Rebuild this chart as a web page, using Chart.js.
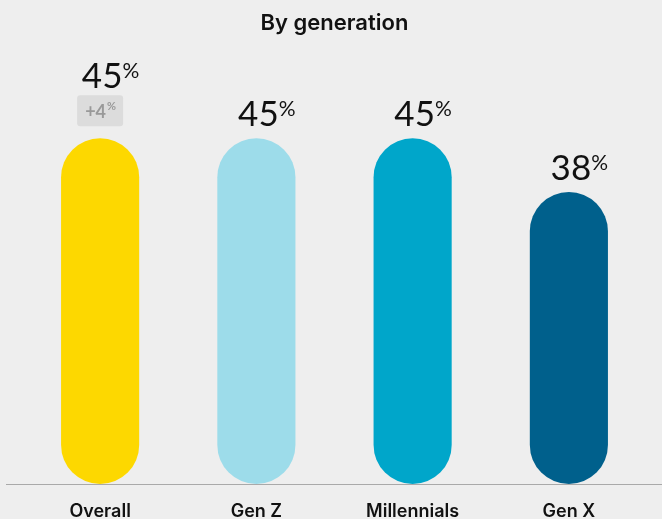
<!DOCTYPE html>
<html>
<head>
<meta charset="utf-8">
<script src="https://cdn.jsdelivr.net/npm/chart.js@4/dist/chart.umd.min.js"></script>
<style>
  html, body { margin: 0; padding: 0; background: #eeeeee; }
  #wrap { width: 662px; height: 519px; }
</style>
</head>
<body>
<div id="wrap"><canvas id="gen-chart" width="662" height="519"></canvas></div>
<script>
var categories = ["Overall", "Gen Z", "Millennials", "Gen X"];
var values = [45, 45, 45, 38];
var changes = ["+4", null, null, null];
var barColors = ["#fdd800", "#9ddcea", "#00a6ca", "#00608c"];

var FONT = "Lato, 'DejaVu Sans', sans-serif";
var LABEL_FONT = "Inter, Lato, sans-serif";

// baseline under the bars, running nearly the full width
var baselinePlugin = {
  id: "baseline",
  beforeDatasetsDraw: function(chart) {
    var ctx = chart.ctx;
    var y = Math.round(chart.scales.y.getPixelForValue(0)) + 0.5;
    ctx.save();
    ctx.strokeStyle = "#a9a9a9";
    ctx.lineWidth = 1;
    ctx.beginPath();
    ctx.moveTo(6, y);
    ctx.lineTo(chart.width, y);
    ctx.stroke();
    ctx.restore();
  }
};

// value labels with superscript % and the change badge
var valueLabels = {
  id: "valueLabels",
  afterDatasetsDraw: function(chart) {
    var ctx = chart.ctx;
    var meta = chart.getDatasetMeta(0);
    ctx.save();
    meta.data.forEach(function(bar, i) {
      var x = bar.x;
      var base = bar.y - 12;
      if (changes[i]) {
        // badge sits between number and bar
        var bw = 46, bh = 31;
        var by = bar.y - 12 - bh;
        ctx.fillStyle = "#dcdcdc";
        ctx.beginPath();
        ctx.roundRect(x - bw / 2, by, bw, bh, 3);
        ctx.fill();
        ctx.fillStyle = "#999999";
        ctx.font = "bold 18px " + FONT;
        ctx.textBaseline = "alphabetic";
        ctx.textAlign = "left";
        var cw = ctx.measureText(changes[i]).width;
        ctx.font = "bold 11px " + FONT;
        var pw = ctx.measureText("%").width;
        var sx = x - (cw + pw) / 2;
        ctx.font = "bold 18px " + FONT;
        ctx.fillText(changes[i], sx, by + 23);
        ctx.font = "bold 11px " + FONT;
        ctx.fillText("%", sx + cw + 1, by + 15);
        base = by - 7;
      }
      ctx.fillStyle = "#111111";
      ctx.font = "35px " + FONT;
      ctx.textAlign = "center";
      ctx.textBaseline = "alphabetic";
      var txt = String(values[i]);
      var w = ctx.measureText(txt).width;
      ctx.fillText(txt, x + 2, base);
      ctx.font = "21px " + FONT;
      ctx.textAlign = "left";
      ctx.fillText("%", x + 2 + w / 2, base - 10);
    });
    ctx.restore();
  }
};

var ctx = document.getElementById("gen-chart").getContext("2d");
var genChart = new Chart(ctx, {
  type: "bar",
  data: {
    labels: categories,
    datasets: [{
      data: values,
      backgroundColor: barColors,
      borderRadius: 40,
      borderSkipped: false,
      categoryPercentage: 0.5,
      barPercentage: 1
    }]
  },
  options: {
    responsive: false,
    animation: false,
    layout: { padding: { left: 22, right: 15, top: 0, bottom: 0 } },
    plugins: {
      legend: { display: false },
      tooltip: { enabled: false },
      title: {
        display: true,
        text: "By generation",
        color: "#111111",
        font: { family: LABEL_FONT, size: 22, weight: 600 },
        padding: { top: 10, bottom: 25 }
      }
    },
    scales: {
      x: {
        grid: { display: false },
        border: { display: false },
        ticks: {
          color: "#111111",
          font: { family: LABEL_FONT, size: 18, weight: 600 },
          padding: 9
        },
        afterFit: function(scale) { scale.height = 35; }
      },
      y: {
        display: false,
        min: 0,
        max: 55
      }
    }
  },
  plugins: [baselinePlugin, valueLabels]
});
</script>
</body>
</html>
